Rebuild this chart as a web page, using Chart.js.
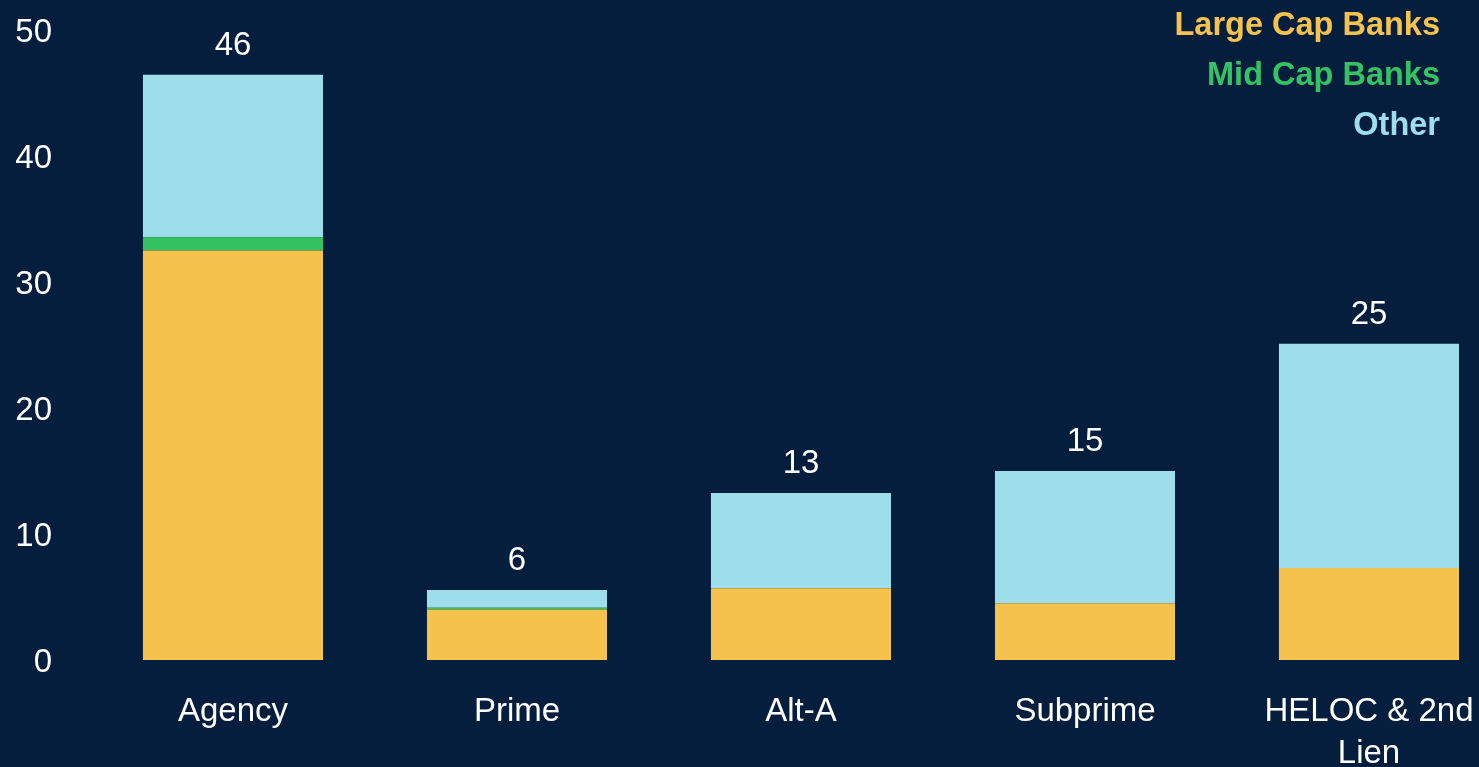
<!DOCTYPE html>
<html>
<head>
<meta charset="utf-8">
<script src="https://cdn.jsdelivr.net/npm/chart.js@4.4.1/dist/chart.umd.min.js"></script>
<style>
  html, body { margin: 0; padding: 0; background: #061e3e; overflow: hidden; }
  #wrap { width: 1511px; height: 772px; }
</style>
</head>
<body>
<div id="wrap"><canvas id="mortgageChart"></canvas></div>
<script>
const categories = ['Agency', 'Prime', 'Alt-A', 'Subprime', ['HELOC & 2nd', 'Lien']];
const largeCap = [32.5, 4.0, 5.7, 4.5, 7.3];
const midCap = [1.05, 0.15, 0, 0, 0];
const other = [12.9, 1.4, 7.55, 10.5, 17.8];
const yTicks = [0, 10, 20, 30, 40, 50];

const FONT = '"Liberation Sans", Arial, sans-serif';

// totals above the top segment of each stack
const totalsPlugin = {
  id: 'totals',
  afterDatasetsDraw(chart) {
    const ctx = chart.ctx;
    const last = chart.getDatasetMeta(chart.data.datasets.length - 1);
    ctx.save();
    ctx.font = '33px ' + FONT;
    ctx.fillStyle = '#ffffff';
    ctx.textAlign = 'center';
    ctx.textBaseline = 'middle';
    last.data.forEach((bar, i) => {
      let total = 0;
      chart.data.datasets.forEach(ds => { total += ds.data[i]; });
      ctx.fillText(Math.round(total), bar.x, bar.y - 29);
    });
    ctx.restore();
  }
};

// text-only legend, right aligned in the top corner
const textLegend = {
  id: 'textLegend',
  afterDraw(chart) {
    const ctx = chart.ctx;
    ctx.save();
    ctx.font = 'bold 32.5px ' + FONT;
    ctx.textAlign = 'right';
    ctx.textBaseline = 'middle';
    chart.data.datasets.forEach((ds, i) => {
      ctx.fillStyle = ds.backgroundColor;
      ctx.fillText(ds.label, 1440, 26 + i * 50);
    });
    ctx.restore();
  }
};

new Chart(document.getElementById('mortgageChart'), {
  type: 'bar',
  data: {
    labels: categories,
    datasets: [
      { label: 'Large Cap Banks', data: largeCap, backgroundColor: '#f5c34d' },
      { label: 'Mid Cap Banks', data: midCap, backgroundColor: '#34c263' },
      { label: 'Other', data: other, backgroundColor: '#9edeec' }
    ]
  },
  options: {
    responsive: true,
    maintainAspectRatio: false,
    animation: false,
    categoryPercentage: 1,
    barPercentage: 0.634,
    layout: { padding: { top: 30, left: 16, right: 0, bottom: 0 } },
    plugins: {
      legend: { display: false },
      tooltip: { enabled: false }
    },
    scales: {
      x: {
        stacked: true,
        grid: { display: false, drawTicks: false },
        border: { display: false },
        afterFit(scale) {
          scale.height = 112;
          scale.paddingLeft = 0;
          scale.paddingRight = 0;
        },
        ticks: {
          color: '#ffffff',
          padding: 31,
          maxRotation: 0,
          autoSkip: false,
          font: { family: FONT, size: 33, lineHeight: 1.27 }
        }
      },
      y: {
        stacked: true,
        min: 0,
        max: 50,
        afterBuildTicks(scale) {
          scale.ticks = yTicks.map(v => ({ value: v }));
        },
        afterFit(scale) {
          scale.width = 75;
          scale.paddingTop = 0;
          scale.paddingBottom = 0;
        },
        grid: { display: false, drawTicks: false },
        border: { display: false },
        ticks: {
          color: '#ffffff',
          padding: 39,
          labelOffset: 3,
          font: { family: FONT, size: 33 }
        }
      }
    }
  },
  plugins: [totalsPlugin, textLegend]
});
</script>
</body>
</html>
